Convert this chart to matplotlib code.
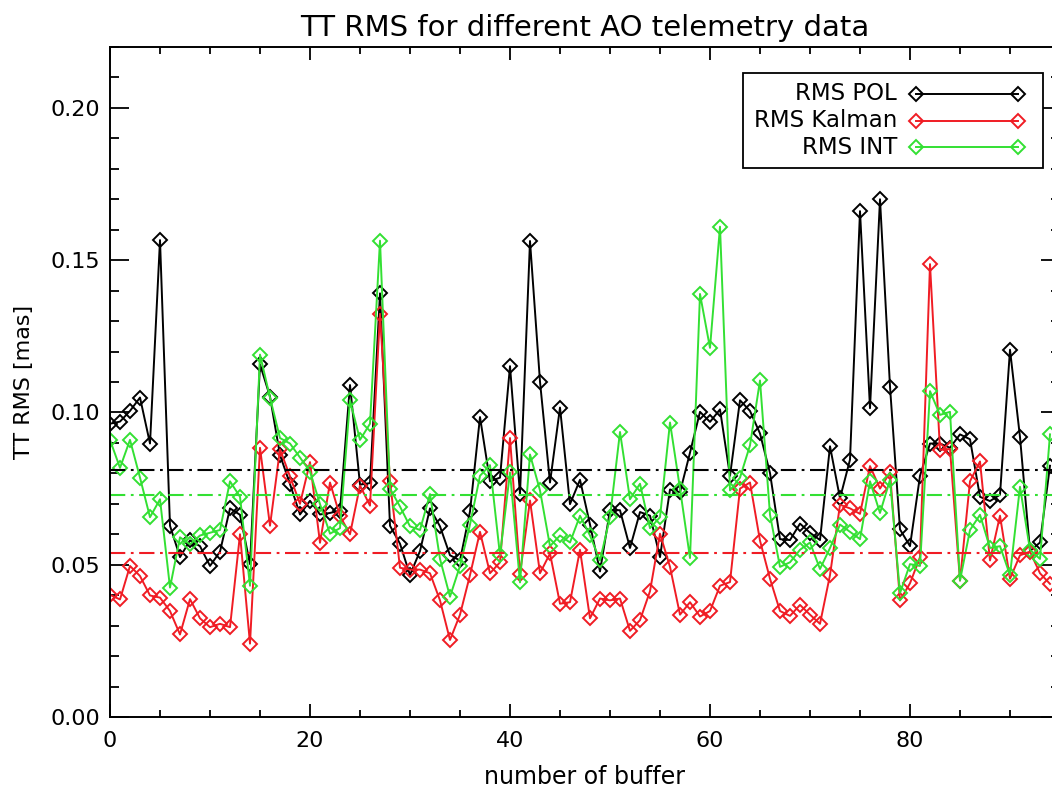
import numpy as np
import matplotlib
matplotlib.use("Agg")
import matplotlib.pyplot as plt
from matplotlib.patches import Rectangle
from matplotlib.lines import Line2D
from matplotlib.ticker import MultipleLocator

# =========================
# Data
# =========================

buffers = np.arange(95)

rms_pol = [0.0963, 0.0970, 0.1005, 0.1049, 0.0898, 0.1566, 0.0628, 0.0525, 0.0580, 0.0561,
           0.0496, 0.0543, 0.0685, 0.0664, 0.0502, 0.1158, 0.1052, 0.0860, 0.0765, 0.0665,
           0.0710, 0.0665, 0.0670, 0.0678, 0.1090, 0.0763, 0.0768, 0.1391, 0.0628, 0.0569,
           0.0466, 0.0545, 0.0685, 0.0626, 0.0531, 0.0514, 0.0675, 0.0985, 0.0774, 0.0786,
           0.1152, 0.0732, 0.1563, 0.1101, 0.0770, 0.1016, 0.0699, 0.0779, 0.0632, 0.0478,
           0.0679, 0.0679, 0.0555, 0.0673, 0.0661, 0.0525, 0.0747, 0.0738, 0.0868, 0.1002,
           0.0969, 0.1010, 0.0792, 0.1040, 0.1005, 0.0931, 0.0801, 0.0584, 0.0581, 0.0635,
           0.0605, 0.0581, 0.0889, 0.0718, 0.0845, 0.1661, 0.1014, 0.1700, 0.1085, 0.0616,
           0.0561, 0.0792, 0.0898, 0.0898, 0.0884, 0.0928, 0.0912, 0.0723, 0.0709, 0.0730,
           0.1206, 0.0919, 0.0545, 0.0573, 0.0825]

rms_kalman = [0.0401, 0.0386, 0.0496, 0.0463, 0.0399, 0.0392, 0.0348, 0.0271, 0.0387, 0.0324,
              0.0295, 0.0306, 0.0295, 0.0600, 0.0241, 0.0884, 0.0628, 0.0879, 0.0790, 0.0700,
              0.0837, 0.0572, 0.0770, 0.0660, 0.0600, 0.0760, 0.0694, 0.1324, 0.0774, 0.0490,
              0.0484, 0.0484, 0.0472, 0.0383, 0.0253, 0.0336, 0.0466, 0.0608, 0.0472, 0.0508,
              0.0916, 0.0470, 0.0711, 0.0472, 0.0537, 0.0372, 0.0377, 0.0549, 0.0324, 0.0389,
              0.0383, 0.0389, 0.0283, 0.0318, 0.0413, 0.0602, 0.0493, 0.0336, 0.0377, 0.0330,
              0.0348, 0.0431, 0.0443, 0.0750, 0.0770, 0.0579, 0.0454, 0.0348, 0.0332, 0.0368,
              0.0336, 0.0306, 0.0466, 0.0697, 0.0685, 0.0667, 0.0824, 0.0750, 0.0803, 0.0383,
              0.0439, 0.0525, 0.1487, 0.0877, 0.0880, 0.0448, 0.0774, 0.0839, 0.0514, 0.0661,
              0.0454, 0.0531, 0.0543, 0.0472, 0.0437]

rms_int = [0.0910, 0.0818, 0.0910, 0.0786, 0.0656, 0.0715, 0.0425, 0.0590, 0.0567, 0.0596,
           0.0605, 0.0614, 0.0774, 0.0723, 0.0431, 0.1190, 0.1049, 0.0916, 0.0898, 0.0852,
           0.0806, 0.0699, 0.0602, 0.0620, 0.1040, 0.0910, 0.0963, 0.1564, 0.0750, 0.0691,
           0.0626, 0.0614, 0.0732, 0.0519, 0.0395, 0.0496, 0.0632, 0.0792, 0.0827, 0.0531,
           0.0803, 0.0442, 0.0862, 0.0744, 0.0561, 0.0596, 0.0573, 0.0661, 0.0596, 0.0514,
           0.0656, 0.0936, 0.0715, 0.0766, 0.0620, 0.0656, 0.0967, 0.0750, 0.0522, 0.1389,
           0.1212, 0.1610, 0.0744, 0.0786, 0.0892, 0.1105, 0.0664, 0.0493, 0.0508, 0.0549,
           0.0573, 0.0486, 0.0555, 0.0632, 0.0608, 0.0584, 0.0774, 0.0670, 0.0779, 0.0407,
           0.0502, 0.0496, 0.1070, 0.0992, 0.1002, 0.0448, 0.0614, 0.0664, 0.0555, 0.0561,
           0.0466, 0.0756, 0.0549, 0.0519, 0.0928]

# mean levels (dash-dot lines)
mean_pol = 0.0812
mean_kalman = 0.0537
mean_int = 0.0728

labels = ["RMS POL", "RMS Kalman", "RMS INT"]
colors = ["black", "#f01c24", "#33e033"]

# =========================
# Figure
# =========================

W, H = 1052, 794
plt.rcParams["font.family"] = "DejaVu Sans"
plt.rcParams["lines.scale_dashes"] = False

fig = plt.figure(figsize=(W / 100, H / 100), dpi=100)
# axes runs a bit past the right edge (the original image is cropped)
ax = fig.add_axes([110 / W, 1 - 717 / H, 950 / W, 670 / H])

series = [rms_pol, rms_kalman, rms_int]
means = [mean_pol, mean_kalman, mean_int]

for vals, col in zip(series, colors):
    ax.plot(buffers, vals, color=col, lw=1.4, marker="D", ms=6.8,
            mfc="none", mec=col, mew=1.4)

dashdot = (11, 4, 2, 4)
for m, col in zip(means, colors):
    ax.axhline(m, color=col, lw=1.5, dashes=dashdot)

ax.set_xlim(0, 95)
ax.set_ylim(0, 0.22)

ax.xaxis.set_major_locator(MultipleLocator(20))
ax.xaxis.set_minor_locator(MultipleLocator(5))
ax.yaxis.set_major_locator(MultipleLocator(0.05))
ax.yaxis.set_minor_locator(MultipleLocator(0.01))
ax.yaxis.set_major_formatter(matplotlib.ticker.FormatStrFormatter("%.2f"))

ax.tick_params(axis="both", which="both", direction="in", top=True, right=True, width=1.3)
ax.tick_params(axis="x", which="major", length=9.5, pad=10, labelsize=16)
ax.tick_params(axis="x", which="minor", length=5)
ax.tick_params(axis="y", which="major", length=13.5, pad=7, labelsize=16)
ax.tick_params(axis="y", which="minor", length=6.8)
for sp in ax.spines.values():
    sp.set_linewidth(1.4)

ax.set_title("TT RMS for different AO telemetry data", fontsize=21, pad=8)
ax.set_xlabel("number of buffer", fontsize=17, labelpad=10)
ax.set_ylabel("TT RMS [mas]", fontsize=16, labelpad=12)

# =========================
# Legend (IDL style: text, then line with a diamond at each end)
# =========================

box = Rectangle((743 / W, 1 - 168 / H), 300 / W, 95 / H, transform=fig.transFigure,
                facecolor="white", edgecolor="black", lw=1.3, zorder=5)
fig.add_artist(box)
for k, (lab, col) in enumerate(zip(labels, colors)):
    yy = 1 - (94 + 26.7 * k) / H
    fig.text(897 / W, yy, lab, ha="right", va="center", fontsize=16.5, zorder=6)
    fig.add_artist(Line2D([916 / W, 1018 / W], [yy, yy], transform=fig.transFigure,
                          color=col, lw=1.4, marker="D", ms=6.8, mfc="none",
                          mec=col, mew=1.4, zorder=6))

fig.savefig("out.png", dpi=100)
